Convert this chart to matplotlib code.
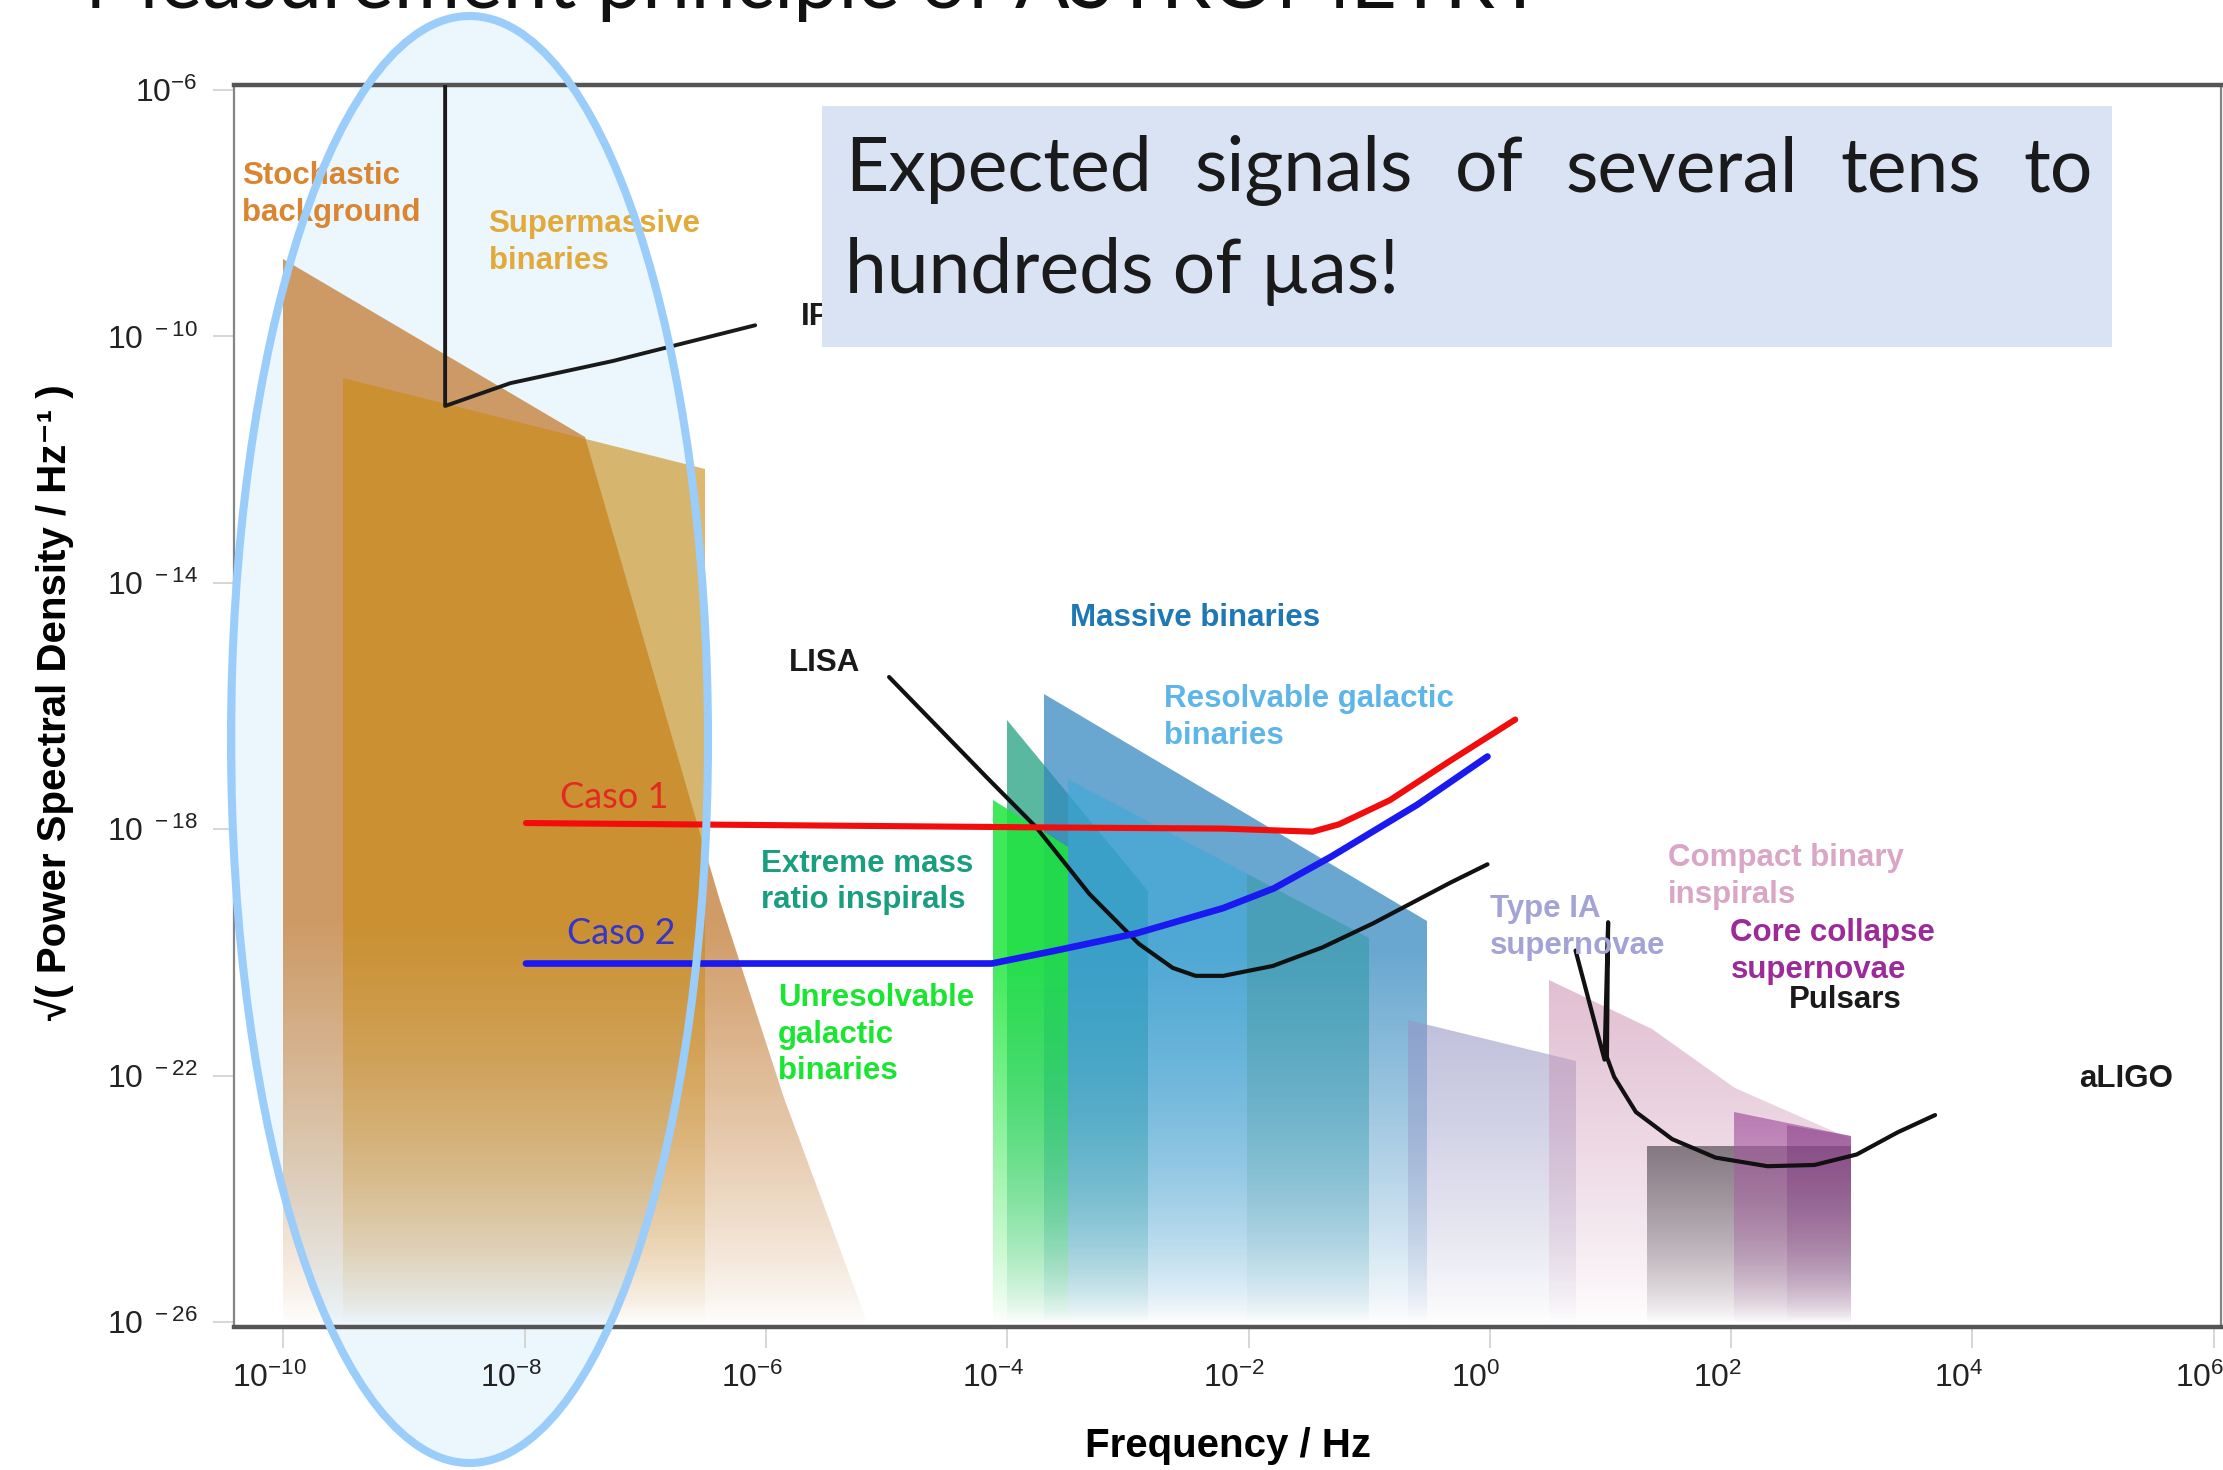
import numpy as np
import matplotlib.pyplot as plt
from matplotlib.patches import Polygon, Ellipse, Rectangle
from matplotlib.colors import LinearSegmentedColormap, to_rgb
from matplotlib.ticker import NullLocator
from matplotlib.transforms import ScaledTranslation

plt.rcParams['font.family'] = ['Liberation Sans', 'DejaVu Sans']

W, H = 2223, 1470

# axis decades
xtick_exp = [-10, -8, -6, -4, -2, 0, 2, 4, 6]
ytick_exp = [-6, -10, -14, -18, -22, -26]
xtick_labels = [r'$\mathregular{10^{%d}}$' % e for e in xtick_exp]
ytick_labels = [r'$\mathregular{10^{-6}}$'] + [r'$\mathregular{10^{\ %d}}$' % e for e in ytick_exp[1:]]

# source regions, outlines as log10(f / Hz), log10(h)
stoch_lf = [-10.0, -10.0, -7.50, -6.57, -6.38, -5.85, -5.20, -5.16]
stoch_lh = [-26.0, -8.74, -11.64, -17.90, -19.16, -22.36, -25.82, -26.0]
smbh_lf = [-9.51, -9.51, -6.51, -6.51]
smbh_lh = [-26.0, -10.67, -12.15, -26.0]
emri_lf = [-4.00, -4.00, -2.83, -2.83]
emri_lh = [-26.0, -16.22, -19.00, -26.0]
massive_lf = [-3.70, -3.70, -0.52, -0.52]
massive_lh = [-26.0, -15.80, -19.49, -26.0]
resolv_lf = [-3.50, -3.50, -1.00, -1.00]
resolv_lh = [-26.0, -17.19, -19.76, -26.0]
band_lf = [-2.01, -2.01, -1.00, -1.00]
band_lh = [-26.0, -18.72, -19.76, -26.0]
unres_lf = [-4.12, -4.12, -3.50, -3.50]
unres_lh = [-26.0, -17.53, -18.29, -26.0]
sn1a_lf = [-0.68, -0.68, 0.71, 0.71]
sn1a_lh = [-26.0, -21.10, -21.77, -26.0]
compact_lf = [0.49, 0.49, 1.34, 2.03, 2.99, 2.99]
compact_lh = [-26.0, -20.45, -21.24, -22.20, -23.03, -26.0]
pulsar_lf = [1.30, 1.30, 2.99, 2.99]
pulsar_lh = [-26.0, -23.15, -23.15, -26.0]
core_lf = [2.02, 2.02, 2.99, 2.99]
core_lh = [-26.0, -22.59, -22.98, -26.0]
core2_lf = [2.46, 2.46, 2.99, 2.99]
core2_lh = [-26.0, -22.80, -22.98, -26.0]

# detector sensitivity curves
ipta_lf = [-8.66, -8.66, -8.12, -7.27, -6.09]
ipta_lh = [-5.92, -11.13, -10.76, -10.40, -9.82]
lisa_lf = [-4.98, -4.17, -3.76, -3.32, -2.91, -2.63, -2.44, -2.21, -1.80, -1.39, -0.97, -0.33, -0.02]
lisa_lh = [-15.53, -17.16, -17.97, -19.05, -19.86, -20.25, -20.38, -20.38, -20.22, -19.92, -19.53, -18.87, -18.57]
aligo_lf = [0.71, 0.95, 0.98, 0.97, 1.03, 1.21, 1.51, 1.87, 2.30, 2.69, 3.04, 3.38, 3.69]
aligo_lh = [-19.97, -21.74, -19.51, -21.70, -22.02, -22.59, -23.03, -23.33, -23.47, -23.45, -23.28, -22.92, -22.64]
caso1_lf = [-7.99, -3.73, -2.21, -1.47, -1.25, -0.83, -0.33, 0.21]
caso1_lh = [-17.90, -17.97, -17.99, -18.04, -17.92, -17.53, -16.89, -16.22]
caso2_lf = [-7.99, -4.13, -3.60, -2.93, -2.21, -1.79, -1.32, -0.60, -0.02]
caso2_lh = [-20.18, -20.18, -19.97, -19.69, -19.28, -18.96, -18.45, -17.60, -16.82]

fig = plt.figure(figsize=(W / 100, H / 100), dpi=100, facecolor='white')
ax = fig.add_axes([234 / W, 1 - 1327 / H, 1987 / W, 1242 / H])
ax.set_facecolor('none')
ax.set_xscale('log')
ax.set_yscale('log')

# light fill of the highlight ellipse sits under the chart
fig.add_artist(Ellipse((469.5 / W, 1 - 739.5 / H), 477 / W, 1447 / H, transform=fig.transFigure,
                       facecolor='#ebf6fd', edgecolor='none', zorder=-1))


def fade_fill(lf, lh, color, alpha, fade, z):
    verts = np.column_stack([10.0 ** np.asarray(lf), 10.0 ** np.asarray(lh)])
    outline = Polygon(verts, closed=True, facecolor='none', edgecolor='none')
    ax.add_patch(outline)
    ys = np.linspace(-26.0, max(lh), 301)
    mid = 0.5 * (ys[1:] + ys[:-1])
    strength = np.clip((mid + 26.0) / fade, 0, 1) ** 0.8
    rgb = to_rgb(color)
    cmap = LinearSegmentedColormap.from_list('fade', [(*rgb, 0.0), (*rgb, alpha)])
    mesh = ax.pcolormesh(10.0 ** np.array([min(lf), max(lf)]), 10.0 ** ys, strength[:, None],
                         cmap=cmap, vmin=0, vmax=1, shading='flat', zorder=z)
    mesh.set_clip_path(outline)


fade_fill(stoch_lf, stoch_lh, '#c88a4b', 0.85, 6.5, 1.0)
fade_fill(smbh_lf, smbh_lh, '#c98a10', 0.60, 6.5, 1.1)
fade_fill(emri_lf, emri_lh, '#32a688', 0.80, 6.0, 1.2)
fade_fill(massive_lf, massive_lh, '#2f86be', 0.72, 6.0, 1.3)
fade_fill(resolv_lf, resolv_lh, '#3baad9', 0.55, 6.0, 1.4)
fade_fill(band_lf, band_lh, '#3b8d77', 0.30, 6.0, 1.5)
fade_fill(unres_lf, unres_lh, '#1ee63c', 0.85, 6.0, 1.6)
fade_fill(sn1a_lf, sn1a_lh, '#9696c5', 0.60, 4.9, 1.7)
fade_fill(compact_lf, compact_lh, '#cc91b2', 0.58, 5.5, 1.8)
fade_fill(pulsar_lf, pulsar_lh, '#514a52', 0.68, 2.9, 1.9)
fade_fill(core_lf, core_lh, '#a65aa1', 0.72, 3.4, 2.0)
fade_fill(core2_lf, core2_lh, '#6a1f70', 0.32, 3.2, 2.1)


def curve(lf, lh, color, lw):
    ax.plot(10.0 ** np.asarray(lf), 10.0 ** np.asarray(lh), color=color, lw=lw,
            solid_capstyle='round', solid_joinstyle='round', zorder=4)


curve(ipta_lf, ipta_lh, '#1a1a1a', 2.8)
curve(lisa_lf, lisa_lh, '#111111', 3.0)
curve(aligo_lf, aligo_lh, '#111111', 3.0)
curve(caso1_lf, caso1_lh, '#f20d0d', 4.4)
curve(caso2_lf, caso2_lh, '#1a1af0', 4.8)

# labels: (text, log10 f, log10 h of the last line's baseline, colour)
lab_kw = dict(fontsize=22.5, fontweight='bold', va='baseline', ha='left', linespacing=1.28, zorder=5)
labels = [
    ('Stochastic\nbackground', -10.34, -8.12, '#d98531'),
    ('Supermassive\nbinaries', -8.30, -8.90, '#e2aa3a'),
    ('IPTA', -5.71, -9.82, '#1a1a1a'),
    ('LISA', -5.81, -15.44, '#1a1a1a'),
    ('Massive binaries', -3.48, -14.70, '#1e78b4'),
    ('Resolvable galactic\nbinaries', -2.705, -16.61, '#5db5e8'),
    ('Extreme mass\nratio inspirals', -6.04, -19.28, '#1a9e80'),
    ('Unresolvable\ngalactic\nbinaries', -5.90, -22.06, '#1ae632'),
    ('Type IA\nsupernovae', 0.0, -20.02, '#a3a3d6'),
    ('Compact binary\ninspirals', 1.477, -19.19, '#d9a6c6'),
    ('Core collapse\nsupernovae', 1.994, -20.41, '#9c2a98'),
    ('Pulsars', 2.476, -20.91, '#1a1a1a'),
    ('aLIGO', 4.884, -22.18, '#1a1a1a'),
]
for txt, lf, lh, col in labels:
    ax.text(10.0 ** lf, 10.0 ** lh, txt, color=col, **lab_kw)

ax.text(10.0 ** -7.71, 10.0 ** -17.65, 'Caso 1', color='#e32a22', fontsize=26, family='Lato',
        va='baseline', ha='left', zorder=5)
ax.text(10.0 ** -7.65, 10.0 ** -19.86, 'Caso 2', color='#3535c8', fontsize=26, family='Lato',
        va='baseline', ha='left', zorder=5)

ax.set_xlim(10.0 ** -10.41, 10.0 ** 6.06)
ax.set_ylim(10.0 ** -26.08, 10.0 ** -5.92)
ax.set_xticks(10.0 ** np.array(xtick_exp), xtick_labels)
ax.set_yticks(10.0 ** np.array(ytick_exp), ytick_labels)
ax.xaxis.set_minor_locator(NullLocator())
ax.yaxis.set_minor_locator(NullLocator())
ax.tick_params(direction='out', length=15, width=1.2, color='#cfcfcf', pad=11,
               labelsize=23, labelcolor='#222222')
# x labels sit a little left of their ticks
shift = ScaledTranslation(-0.14, 0, fig.dpi_scale_trans)
for lbl in ax.get_xticklabels():
    lbl.set_transform(lbl.get_transform() + shift)

for side in ['top', 'bottom']:
    ax.spines[side].set_color('#555555')
    ax.spines[side].set_linewidth(3.2)
for side in ['left', 'right']:
    ax.spines[side].set_color('#858585')
    ax.spines[side].set_linewidth(1.6)

ax.set_xlabel('Frequency / Hz', fontsize=29, fontweight='bold', va='center')
ax.xaxis.set_label_coords(0.5003, -0.0958)
ax.set_ylabel('√( Power Spectral Density / Hz⁻¹ )', fontsize=29, fontweight='bold', va='center')
ax.yaxis.set_label_coords(-0.0906, 0.503)

# outline of the highlight ellipse goes over everything in the plot
fig.add_artist(Ellipse((469.5 / W, 1 - 739.5 / H), 477 / W, 1447 / H, transform=fig.transFigure,
                       facecolor='none', edgecolor='#9bcdfa', lw=5.8, zorder=5))

# slide title, cut by the top edge
fig.text(85 / W, 1 - 8 / H, 'Measurement principle of ASTROMETRY', fontsize=58, family='Lato',
         va='baseline', ha='left', color='#111111', zorder=8)

# callout box with justified first line
fig.add_artist(Rectangle((822 / W, 1 - 347 / H), (2112 - 822) / W, (347 - 106) / H,
                         transform=fig.transFigure, facecolor='#dae3f3', edgecolor='none', zorder=6))
box_kw = dict(fontsize=54, family='Lato', color='#1a1a1a', va='baseline', ha='left', zorder=7)
line1 = 'Expected signals of several tens to'.split()
words = [fig.text(0, 1 - 191 / H, w, **box_kw) for w in line1]
fig.canvas.draw()
renderer = fig.canvas.get_renderer()
widths = [t.get_window_extent(renderer).width for t in words]
left, right = 845, 2093
gap = (right - left - sum(widths)) / (len(words) - 1)
x = left
for t, w in zip(words, widths):
    t.set_x(x / W)
    x += w + gap
fig.text(845 / W, 1 - 293 / H, 'hundreds of µas!', **box_kw)

fig.savefig('out.png', dpi=100)
